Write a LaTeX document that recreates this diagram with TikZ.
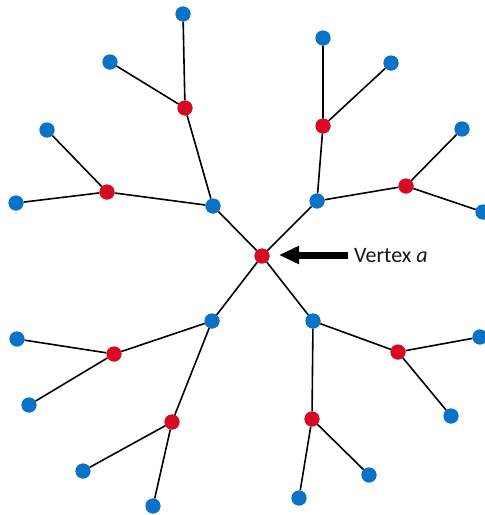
\documentclass[tikz,border=0pt]{standalone}
\usepackage{fontspec}
\setmainfont{Carlito}
\usetikzlibrary{arrows.meta}
\definecolor{leafblue}{RGB}{10,115,200}
\definecolor{hubred}{RGB}{215,10,35}
\definecolor{labelink}{RGB}{15,20,40}
\begin{document}
\begin{tikzpicture}[x=1pt,y=-1pt,
  bdot/.style={circle,fill=leafblue,inner sep=0pt,minimum size=15pt},
  rdot/.style={circle,fill=hubred,inner sep=0pt,minimum size=15pt},
  edge/.style={draw=black,line width=1.6pt}]
\useasboundingbox (0,0) rectangle (485,515);
% centre vertex
\node[rdot] (c) at (262,256) {};
% first ring
\node[bdot] (b1) at (213,206) {};
\node[bdot] (b2) at (317,201) {};
\node[bdot] (b3) at (212,321) {};
\node[bdot] (b4) at (313,321) {};
% second ring
\node[rdot] (r1) at (185,108) {};
\node[rdot] (r2) at (107,192) {};
\node[rdot] (r3) at (323,126) {};
\node[rdot] (r4) at (406,186) {};
\node[rdot] (r5) at (114,354) {};
\node[rdot] (r6) at (172,422) {};
\node[rdot] (r7) at (398,352) {};
\node[rdot] (r8) at (312,419) {};
% leaves
\node[bdot] (l1) at (183,14) {};
\node[bdot] (l2) at (110,62) {};
\node[bdot] (l3) at (47,130) {};
\node[bdot] (l4) at (16,203) {};
\node[bdot] (l5) at (323,38) {};
\node[bdot] (l6) at (391,63) {};
\node[bdot] (l7) at (462,129) {};
\node[bdot] (l8) at (483,212) {};
\node[bdot] (l9) at (17,339) {};
\node[bdot] (l10) at (29,405) {};
\node[bdot] (l11) at (83,471) {};
\node[bdot] (l12) at (153,506) {};
\node[bdot] (l13) at (480,337) {};
\node[bdot] (l14) at (451,416) {};
\node[bdot] (l15) at (369,475) {};
\node[bdot] (l16) at (299,498) {};
% edges
\path[edge] (c) -- (b1) (c) -- (b2) (c) -- (b3) (c) -- (b4);
\path[edge] (b1) -- (r1) (b1) -- (r2) (b2) -- (r3) (b2) -- (r4);
\path[edge] (b3) -- (r5) (b3) -- (r6) (b4) -- (r7) (b4) -- (r8);
\path[edge] (r1) -- (l1) (r1) -- (l2) (r2) -- (l3) (r2) -- (l4);
\path[edge] (r3) -- (l5) (r3) -- (l6) (r4) -- (l7) (r4) -- (l8);
\path[edge] (r5) -- (l9) (r5) -- (l10) (r6) -- (l11) (r6) -- (l12);
\path[edge] (r7) -- (l13) (r7) -- (l14) (r8) -- (l15) (r8) -- (l16);
% dots drawn again so that they sit above the edges
\foreach \n in {c,r1,r2,r3,r4,r5,r6,r7,r8}{\fill[hubred] (\n) circle (7.5pt);}
\foreach \n in {b1,b2,b3,b4,l1,l2,l3,l4,l5,l6,l7,l8,l9,l10,l11,l12,l13,l14,l15,l16}{\fill[leafblue] (\n) circle (7.5pt);}
% pointer and label
\node[anchor=west,text=labelink,font=\fontsize{22}{22}\selectfont,inner sep=0pt] (lab) at (354,256) {Vertex \textit{a}};
\coordinate (tail) at (348,255);
\coordinate (tip) at (279,255);
\draw[line width=7pt,-{Triangle[length=20pt,width=17pt]}] (tail) -- (tip);
\end{tikzpicture}
\end{document}
